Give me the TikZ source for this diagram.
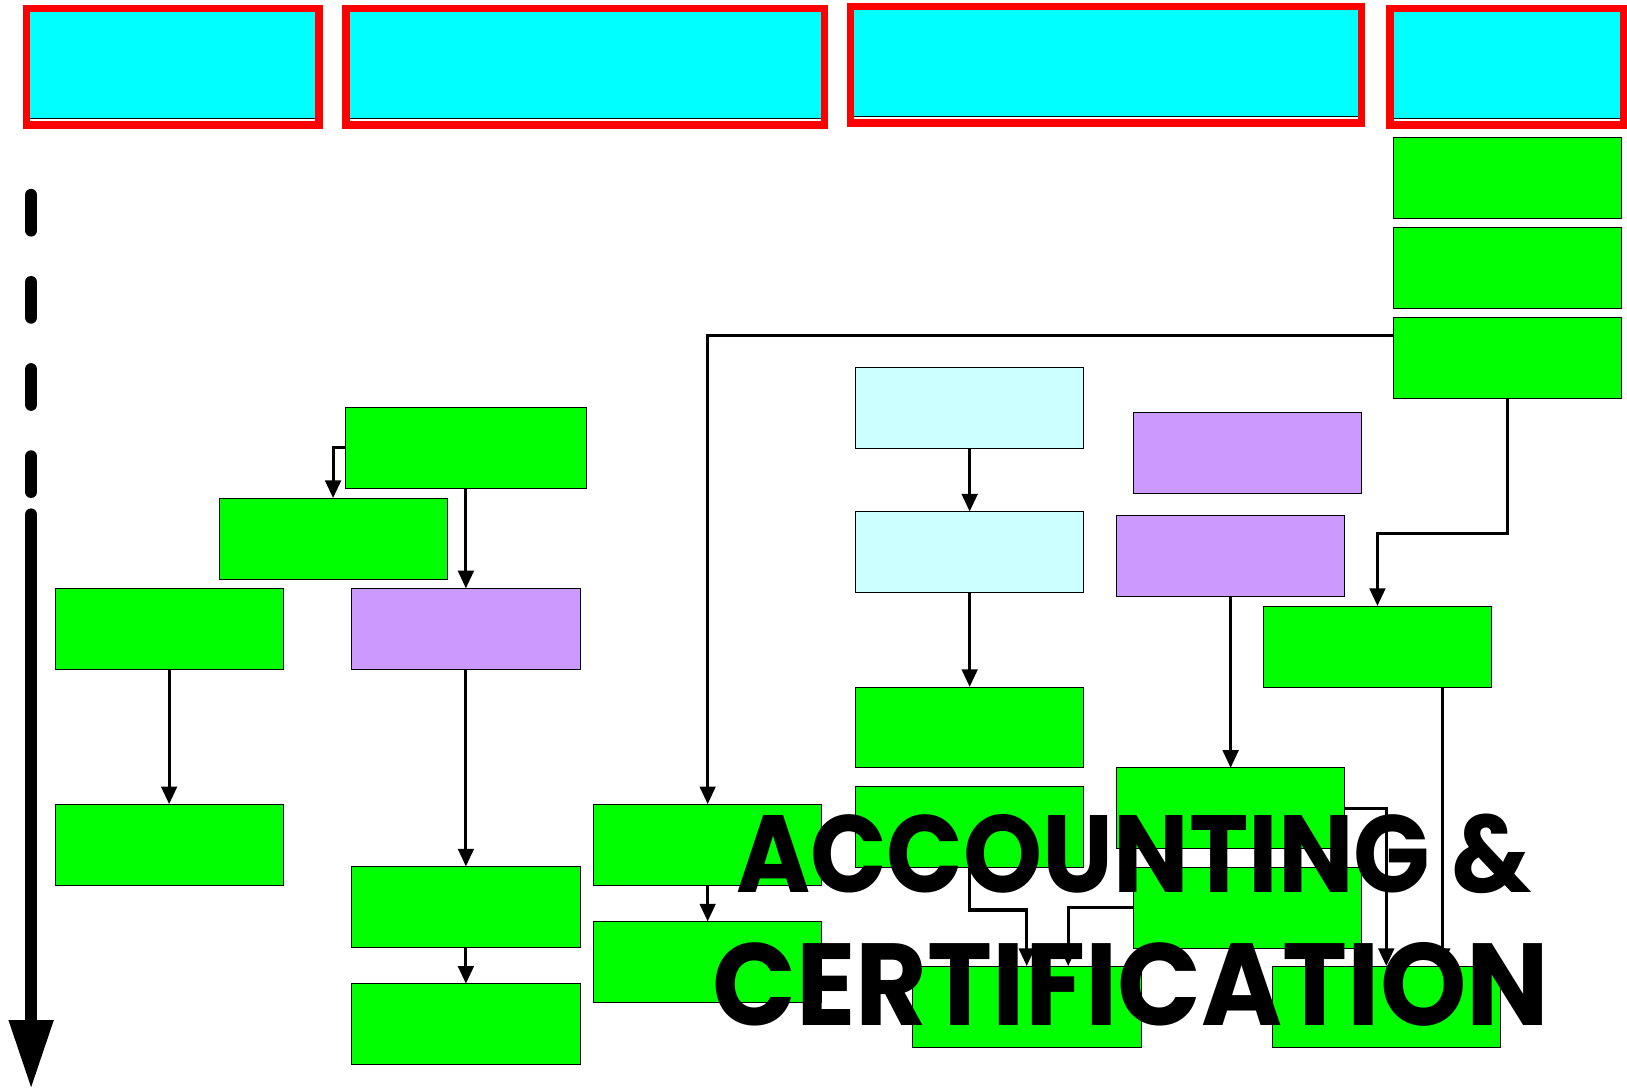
\documentclass[tikz,border=0pt]{standalone}
\usepackage{fontspec}
\newfontfamily\certfont{Poppins}
\usetikzlibrary{arrows.meta,calc}
\definecolor{lilac}{HTML}{CC99FF}
\definecolor{palecyan}{HTML}{CCFFFF}
\definecolor{hdrcyan}{HTML}{00FFFF}
\definecolor{boxgreen}{HTML}{00FF00}
\definecolor{hdrred}{HTML}{FF0000}

\begin{document}
\begin{tikzpicture}[x=0.02cm,y=-0.02cm,
		box/.style={draw=black,line width=0.4pt,minimum width=4.4cm,minimum height=1.56cm,inner sep=0pt,outer sep=0pt},
		grn/.style={box,fill=boxgreen},
		lil/.style={box,fill=lilac},
		pale/.style={box,fill=palecyan},
		hdr/.style={draw=hdrred,fill=hdrcyan,line width=0.14cm,minimum height=2.24cm,inner sep=0pt,outer sep=0pt},
		conn/.style={line width=0.06cm,-{Triangle[length=0.34cm,width=0.3cm]}},
		timeline/.style={line width=0.24cm,line cap=round},
		big/.style={font=\certfont\bfseries\fontsize{64}{70}\selectfont,inner sep=0pt,anchor=base}]
		\useasboundingbox (0,0) rectangle (1568,1050);
		\node[hdr,minimum width=5.64cm] (h1) at (166.5,64.5) {};
		\node[hdr,minimum width=9.22cm] (h2) at (564,64.5) {};
		\node[hdr,minimum width=9.86cm] (h3) at (1066,62.5) {};
		\node[hdr,minimum width=4.5cm] (h4) at (1452,64.5) {};
		\foreach \h in {h1,h2,h3,h4} {
			\draw[white,line width=0.04cm] ([shift={(0.07cm,0.09cm)}]\h.south west) -- ([shift={(-0.07cm,0.09cm)}]\h.south east);
			\draw[line width=0.03cm] ([shift={(0.07cm,0.125cm)}]\h.south west) -- ([shift={(-0.07cm,0.125cm)}]\h.south east);
		}
		\node[grn] (r1) at (1453,171) {};
		\node[grn] (r2) at (1453,258) {};
		\node[grn] (r3) at (1453,345) {};
		\node[grn,minimum width=4.64cm] (a1) at (449,431.5) {};
		\node[grn] (a2) at (321,519) {};
		\node[lil] (a3) at (449,606) {};
		\node[grn] (a4) at (449,874) {};
		\node[grn] (a5) at (449,987) {};
		\node[grn] (l1) at (163,606) {};
		\node[grn] (l2) at (163,814) {};
		\node[grn] (b1) at (682,814) {};
		\node[grn] (b2) at (682,927) {};
		\node[pale] (c1) at (934.5,393) {};
		\node[pale] (c2) at (934.5,532) {};
		\node[grn] (c3) at (934.5,701) {};
		\node[grn] (c4) at (934.5,797) {};
		\node[grn] (d1) at (989.5,970) {};
		\node[lil] (p1) at (1202,436) {};
		\node[lil] (p2) at (1186,536) {};
		\node[grn] (e1) at (1186,779) {};
		\node[grn] (e2) at (1202,874.5) {};
		\node[grn] (q) at (1327.5,623) {};
		\node[grn] (f1) at (1336,970) {};
		\draw[conn] (a1.west) -| (a2.north);
		\draw[conn] (a1.south) -- (a3.north);
		\draw[conn] (a3.south) -- (a4.north);
		\draw[conn] (a4.south) -- (a5.north);
		\draw[conn] (l1.south) -- (l2.north);
		\draw[conn] (b1.south) -- (b2.north);
		\draw[conn] ($(r3.north west)!0.22!(r3.south west)$) -| (b1.north);
		\draw[conn] (r3.south) -- ++(0,130) -| (q.north);
		\draw[conn] (c1.south) -- (c2.north);
		\draw[conn] (c2.south) -- (c3.north);
		\draw[conn] (c4.south) -- ++(0,41) -| (d1.north);
		\draw[conn] (e2.west) -| ([xshift=0.8cm]d1.north);
		\draw[conn] (p2.south) -- (e1.north);
		\draw[conn] (e1.east) -| (f1.north);
		\draw[conn] ([xshift=1.25cm]q.south) -- ([xshift=1.25cm]q.south |- f1.north);
		\coordinate (t0) at (30,188);
		\coordinate (t1) at (30,474);
		\coordinate (t2) at (30,496);
		\coordinate (t3) at (30,1050);
		\draw[timeline,dash pattern=on 0.68cm off 1cm] (t0) -- (t1);
		\draw[timeline,-{Triangle[length=1.34cm,width=0.8cm]}] (t2) -- (t3);
		\node[big] (acct) at (1093,860) {\scalebox{0.862}[0.94]{ACCOUNTING \&}};
		\node[big] (cert) at (1090,988) {\scalebox{0.943}[1]{CERTIFICATION}};
	\end{tikzpicture}
\end{document}
